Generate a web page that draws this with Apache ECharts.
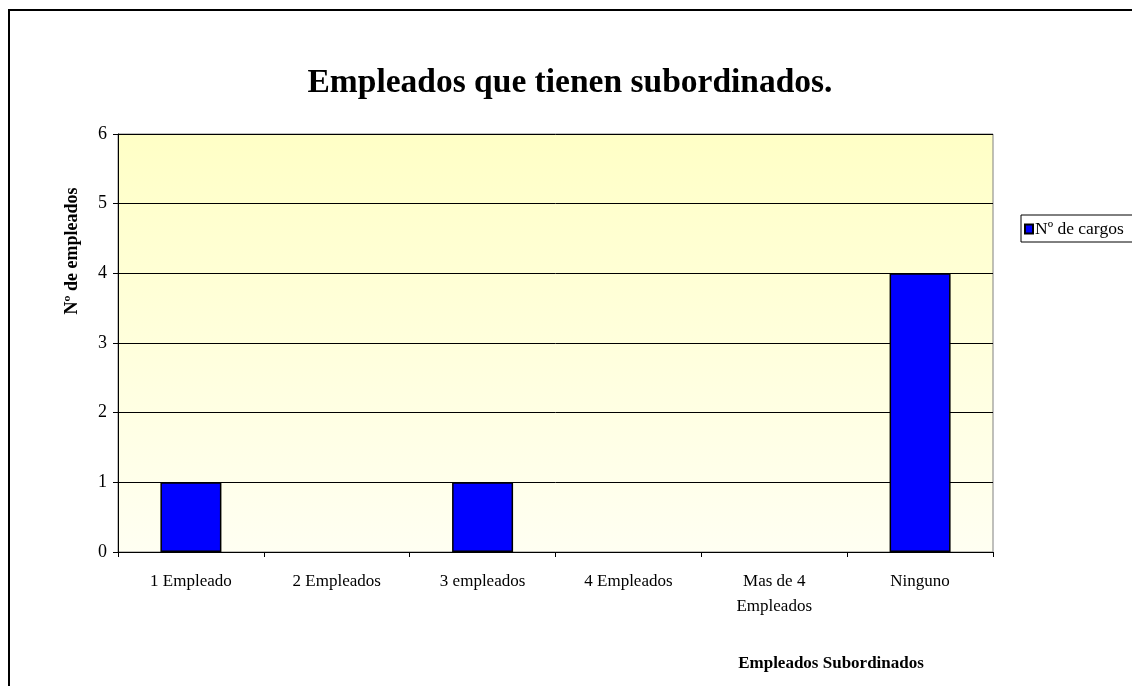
<!DOCTYPE html>
<html>
<head>
<meta charset="utf-8">
<script src="https://cdn.jsdelivr.net/npm/echarts@6/dist/echarts.min.js"></script>
<style>
    html, body { margin: 0; padding: 0; background: #fff; }
    #barChart { width: 1132px; height: 686px; }
</style>
</head>
<body>
<div id="barChart"></div>
<script>
// datos de la grafica
var categorias = ['1 Empleado', '2 Empleados', '3 empleados', '4 Empleados', 'Mas de 4\nEmpleados', 'Ninguno'];
var numCargos = [1, 0, 1, 0, 0, 4];
var ejeY = [0, 1, 2, 3, 4, 5, 6];

var serif = '"Liberation Serif", "Times New Roman", serif';

function createBarChart(chartId) {
    var myChart = echarts.init(document.getElementById(chartId));

    // las barras con valor 0 no se dibujan (sin borde plano)
    var barData = numCargos.map(function (v) {
        return v === 0 ? '-' : v;
    });

    var option = {
        animation: false,
        backgroundColor: '#fff',
        textStyle: { fontFamily: serif },
        title: {
            text: 'Empleados que tienen subordinados.',
            left: 565,
            textAlign: 'center',
            top: 61,
            textStyle: { fontFamily: serif, fontSize: 33.5, fontWeight: 'bold', color: '#000' }
        },
        legend: {
            data: ['Nº de cargos'],
            left: 1021,
            top: 215,
            orient: 'vertical',
            borderColor: '#000',
            borderWidth: 1,
            padding: [5, 30, 4, 3],
            itemWidth: 8,
            itemHeight: 9,
            itemGap: 0,
            icon: 'rect',
            textStyle: { fontFamily: serif, fontSize: 17.5, color: '#000', padding: [0, 0, 0, -3] }
        },
        grid: {
            left: 118,
            right: 139,
            top: 134,
            bottom: 134,
            show: true,
            borderColor: '#808080',
            borderWidth: 1,
            backgroundColor: new echarts.graphic.LinearGradient(0, 0, 0, 1, [
                { offset: 0, color: '#ffffc6' },
                { offset: 1, color: '#fffff2' }
            ])
        },
        xAxis: {
            type: 'category',
            data: categorias,
            boundaryGap: true,
            axisLine: { show: true, lineStyle: { color: '#000', width: 1 } },
            axisTick: { show: true, length: 5, lineStyle: { color: '#000' } },
            axisLabel: {
                color: '#000',
                fontFamily: serif,
                fontSize: 17,
                margin: 17,
                lineHeight: 25
            }
        },
        yAxis: {
            type: 'value',
            min: ejeY[0],
            max: ejeY[ejeY.length - 1],
            interval: 1,
            axisLine: { show: true, lineStyle: { color: '#000', width: 1 } },
            axisTick: { show: true, length: 5, lineStyle: { color: '#000' } },
            axisLabel: { color: '#000', fontFamily: serif, fontSize: 18, margin: 11 },
            splitLine: { show: true, lineStyle: { color: '#000', width: 1 } }
        },
        series: [{
            name: 'Nº de cargos',
            type: 'bar',
            data: barData,
            barWidth: 61,
            itemStyle: { color: '#0000ff', borderColor: '#000', borderWidth: 1.5 }
        }],
        graphic: [
            {
                type: 'rect',
                silent: true,
                shape: { x: 9, y: 10, width: 1200, height: 800 },
                style: { fill: 'none', stroke: '#000', lineWidth: 2 }
            },
            {
                type: 'text',
                silent: true,
                x: 72,
                y: 251,
                rotation: Math.PI / 2,
                style: {
                    text: 'Nº de empleados',
                    font: 'bold 18px ' + serif,
                    fill: '#000',
                    align: 'center',
                    verticalAlign: 'middle',
                    letterSpacing: 4
                }
            },
            {
                type: 'text',
                silent: true,
                x: 831,
                y: 664,
                style: {
                    text: 'Empleados Subordinados',
                    font: 'bold 17px ' + serif,
                    fill: '#000',
                    align: 'center',
                    verticalAlign: 'middle',
                    letterSpacing: 0.5
                }
            }
        ]
    };

    myChart.setOption(option);
}

createBarChart('barChart');
</script>
</body>
</html>
